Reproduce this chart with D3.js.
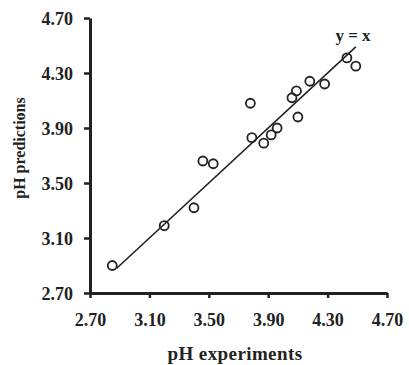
<!DOCTYPE html>
<html><head><meta charset="utf-8">
<script src="https://cdn.jsdelivr.net/npm/d3@7"></script>
<style>
body{margin:0;background:#fff;}
text{font-family:"Liberation Serif","Times New Roman",serif;font-weight:bold;fill:#222;}
</style></head><body>
<svg id="c" width="409" height="365"></svg>
<script>
const expX = [2.85,3.20,3.40,3.46,3.53,3.78,3.79,3.87,3.92,3.96,4.06,4.09,4.10,4.18,4.28,4.43,4.49];
const predY = [2.90,3.19,3.32,3.66,3.64,4.08,3.83,3.79,3.85,3.90,4.12,4.17,3.98,4.24,4.22,4.41,4.35];
const tickVals = [2.70,3.10,3.50,3.90,4.30,4.70];
const lineX = [2.88,4.49];
const xTitle = "pH experiments", yTitle = "pH predictions", lineLabel = "y = x";

const svg = d3.select("#c");
const x = d3.scaleLinear().domain([2.7,4.7]).range([90,387]);
const y = d3.scaleLinear().domain([2.7,4.7]).range([293,18]);
const col = "#222";

const xa = svg.append("g").attr("transform","translate(0,293)")
  .call(d3.axisBottom(x).tickValues(tickVals).tickFormat(d3.format(".2f")).tickSize(5).tickPadding(15).tickSizeOuter(0));
const ya = svg.append("g").attr("transform","translate(90,0)")
  .call(d3.axisLeft(y).tickValues(tickVals).tickFormat(d3.format(".2f")).tickSize(6).tickPadding(11).tickSizeOuter(0));
[xa,ya].forEach(g=>{
  g.select(".domain").attr("stroke",col).attr("stroke-width",3);
  g.selectAll(".tick line").attr("stroke",col).attr("stroke-width",2.5);
  g.selectAll(".tick text").attr("font-size",18).attr("fill",col)
   .style("font-family","'Liberation Serif',serif").style("font-weight","bold");
});
ya.selectAll(".tick text").attr("dy","0.35em");

svg.append("line")
  .attr("x1",x(lineX[0])).attr("y1",y(lineX[0]))
  .attr("x2",x(lineX[1])).attr("y2",y(lineX[1]))
  .attr("stroke",col).attr("stroke-width",1.6);

svg.selectAll("circle.p").data(expX).join("circle").attr("class","p")
  .attr("cx",(d)=>x(d)).attr("cy",(d,i)=>y(predY[i])).attr("r",4.5)
  .attr("fill","none").attr("stroke",col).attr("stroke-width",1.8);

svg.append("text").attr("x",353).attr("y",41).attr("text-anchor","middle")
  .attr("font-size",17).text(lineLabel);
svg.append("text").attr("x",235).attr("y",360).attr("text-anchor","middle")
  .attr("font-size",19).attr("letter-spacing",0.4).text(xTitle);
svg.append("text").attr("transform","translate(25,148) rotate(-90)").attr("text-anchor","middle")
  .attr("font-size",16).text(yTitle);
</script></body></html>
